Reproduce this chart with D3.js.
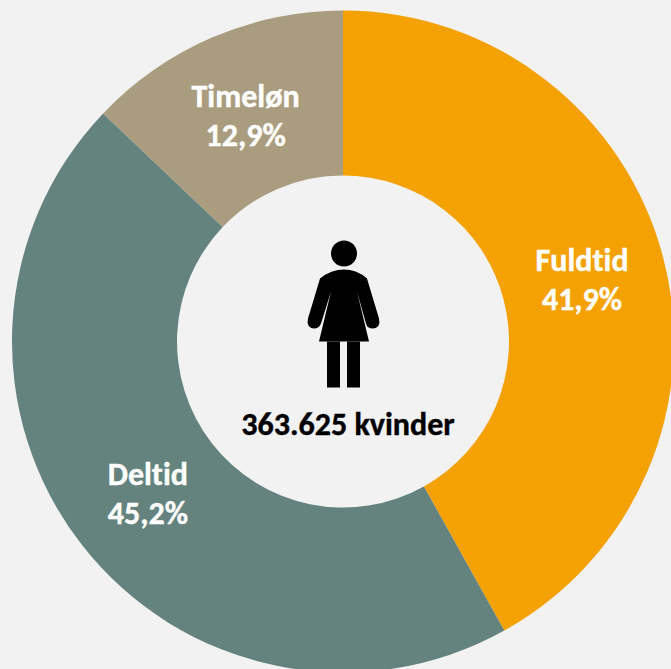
<!DOCTYPE html>
<html>
<head>
<meta charset="utf-8">
<script src="https://cdn.jsdelivr.net/npm/d3@7"></script>
<style>
    html, body { margin: 0; padding: 0; background: #f2f2f2; overflow: hidden; }
    text { font-family: Carlito, "Open Sans", "Noto Sans", sans-serif; font-weight: 700; font-variant-ligatures: none; }
</style>
</head>
<body>
<svg id="chart" width="671" height="669"></svg>
<script>
const categories = ["Fuldtid", "Deltid", "Timeløn"];
const shares = [41.9, 45.2, 12.9];
const colors = ["#f4a104", "#64827e", "#aa9d7f"];
const centerLabel = "363.625 kvinder";

const cx = 343, cy = 341.5;
const outerRadius = 331, innerRadius = 166;
const labelRadius = 247;

const svg = d3.select("#chart");
const g = svg.append("g").attr("transform", "translate(" + cx + "," + cy + ")");

const pie = d3.pie().sort(null).value(d => d.share);
const arc = d3.arc().innerRadius(innerRadius).outerRadius(outerRadius);
const labelArc = d3.arc().innerRadius(labelRadius).outerRadius(labelRadius);

const data = categories.map((c, i) => ({ name: c, share: shares[i], color: colors[i] }));
const fmt = v => v.toFixed(1).replace(".", ",") + "%";

g.selectAll(".slice").data(pie(data))
    .join("path")
    .attr("class", "slice")
    .attr("d", arc)
    .attr("fill", d => d.data.color);

const labels = g.selectAll(".label").data(pie(data))
    .join("g")
    .attr("class", "label")
    .attr("transform", d => "translate(" + labelArc.centroid(d) + ")")
    .attr("fill", "#ffffff")
    .attr("stroke", "#ffffff")
    .attr("stroke-width", 0.4)
    .attr("text-anchor", "middle")
    .style("font-size", "32px");
labels.append("text").attr("y", -8).text(d => d.data.name);
labels.append("text").attr("y", 31).text(d => fmt(d.data.share));

// woman icon
const icon = g.append("g").attr("fill", "#000000");
icon.append("circle").attr("cx", 1).attr("cy", -88).attr("r", 13);
icon.append("path").attr("d", "M-23,-63 Q-12,-72 1,-72 Q14,-72 24,-63 L36,-23 Q38,-14 30,-13 Q24,-13 23,-18 L14,-50 L26,0 L-24,0 L-12,-50 L-22,-18 Q-24,-13 -29,-13 Q-37,-14 -35,-23 Z");
icon.append("rect").attr("x", -16).attr("y", 0).attr("width", 13).attr("height", 46);
icon.append("rect").attr("x", 4).attr("y", 0).attr("width", 13).attr("height", 46);

g.append("text")
    .attr("x", 5)
    .attr("y", 93)
    .attr("text-anchor", "middle")
    .attr("fill", "#000000")
    .attr("stroke", "#000000")
    .attr("stroke-width", 0.4)
    .style("font-size", "32px")
    .text(centerLabel);
</script>
</body>
</html>
